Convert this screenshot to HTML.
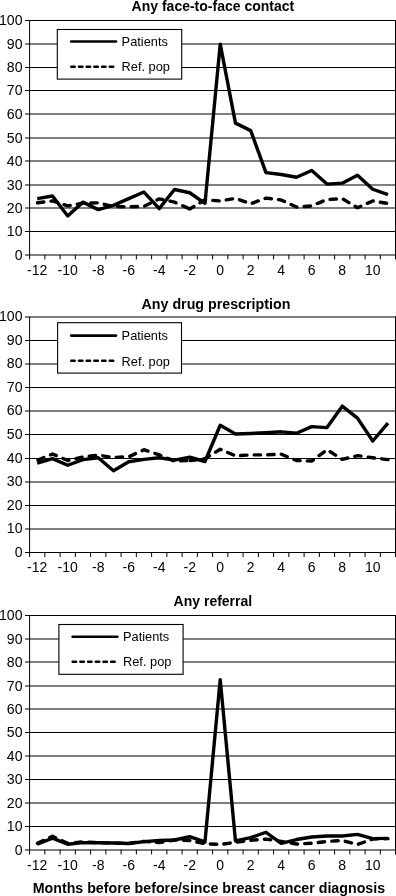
<!DOCTYPE html>
<html><head><meta charset="utf-8"><style>
html,body{margin:0;padding:0;background:#fff;width:396px;height:896px;overflow:hidden;}
svg text{font-family:"Liberation Sans", sans-serif;fill:#000;}
svg{will-change:transform;}
</style></head><body>
<svg width="396" height="896" viewBox="0 0 396 896" style="position:absolute;left:0;top:0"><g><line x1="25" y1="255.00" x2="395.6" y2="255.00" stroke="#000" stroke-width="1.1"/><text x="22.5" y="259.60" text-anchor="end" font-size="14.1">0</text><line x1="25" y1="231.50" x2="395.6" y2="231.50" stroke="#000" stroke-width="1.1"/><text x="22.5" y="236.10" text-anchor="end" font-size="14.1">10</text><line x1="25" y1="208.00" x2="395.6" y2="208.00" stroke="#000" stroke-width="1.1"/><text x="22.5" y="212.60" text-anchor="end" font-size="14.1">20</text><line x1="25" y1="185.00" x2="395.6" y2="185.00" stroke="#000" stroke-width="1.1"/><text x="22.5" y="189.60" text-anchor="end" font-size="14.1">30</text><line x1="25" y1="161.00" x2="395.6" y2="161.00" stroke="#000" stroke-width="1.1"/><text x="22.5" y="165.60" text-anchor="end" font-size="14.1">40</text><line x1="25" y1="138.00" x2="395.6" y2="138.00" stroke="#000" stroke-width="1.1"/><text x="22.5" y="142.60" text-anchor="end" font-size="14.1">50</text><line x1="25" y1="114.00" x2="395.6" y2="114.00" stroke="#000" stroke-width="1.1"/><text x="22.5" y="118.60" text-anchor="end" font-size="14.1">60</text><line x1="25" y1="90.50" x2="395.6" y2="90.50" stroke="#000" stroke-width="1.1"/><text x="22.5" y="95.10" text-anchor="end" font-size="14.1">70</text><line x1="25" y1="67.50" x2="395.6" y2="67.50" stroke="#000" stroke-width="1.1"/><text x="22.5" y="72.10" text-anchor="end" font-size="14.1">80</text><line x1="25" y1="44.00" x2="395.6" y2="44.00" stroke="#000" stroke-width="1.1"/><text x="22.5" y="48.60" text-anchor="end" font-size="14.1">90</text><line x1="25" y1="20.50" x2="395.6" y2="20.50" stroke="#000" stroke-width="1.1"/><text x="22.5" y="25.10" text-anchor="end" font-size="14.1">100</text><line x1="29.6" y1="20.50" x2="29.6" y2="259.45" stroke="#000" stroke-width="1"/><line x1="44.85" y1="254.85" x2="44.85" y2="259.45" stroke="#000" stroke-width="1"/><line x1="60.10" y1="254.85" x2="60.10" y2="259.45" stroke="#000" stroke-width="1"/><line x1="75.35" y1="254.85" x2="75.35" y2="259.45" stroke="#000" stroke-width="1"/><line x1="90.60" y1="254.85" x2="90.60" y2="259.45" stroke="#000" stroke-width="1"/><line x1="105.85" y1="254.85" x2="105.85" y2="259.45" stroke="#000" stroke-width="1"/><line x1="121.10" y1="254.85" x2="121.10" y2="259.45" stroke="#000" stroke-width="1"/><line x1="136.35" y1="254.85" x2="136.35" y2="259.45" stroke="#000" stroke-width="1"/><line x1="151.60" y1="254.85" x2="151.60" y2="259.45" stroke="#000" stroke-width="1"/><line x1="166.85" y1="254.85" x2="166.85" y2="259.45" stroke="#000" stroke-width="1"/><line x1="182.10" y1="254.85" x2="182.10" y2="259.45" stroke="#000" stroke-width="1"/><line x1="197.35" y1="254.85" x2="197.35" y2="259.45" stroke="#000" stroke-width="1"/><line x1="212.60" y1="254.85" x2="212.60" y2="259.45" stroke="#000" stroke-width="1"/><line x1="227.85" y1="254.85" x2="227.85" y2="259.45" stroke="#000" stroke-width="1"/><line x1="243.10" y1="254.85" x2="243.10" y2="259.45" stroke="#000" stroke-width="1"/><line x1="258.35" y1="254.85" x2="258.35" y2="259.45" stroke="#000" stroke-width="1"/><line x1="273.60" y1="254.85" x2="273.60" y2="259.45" stroke="#000" stroke-width="1"/><line x1="288.85" y1="254.85" x2="288.85" y2="259.45" stroke="#000" stroke-width="1"/><line x1="304.10" y1="254.85" x2="304.10" y2="259.45" stroke="#000" stroke-width="1"/><line x1="319.35" y1="254.85" x2="319.35" y2="259.45" stroke="#000" stroke-width="1"/><line x1="334.60" y1="254.85" x2="334.60" y2="259.45" stroke="#000" stroke-width="1"/><line x1="349.85" y1="254.85" x2="349.85" y2="259.45" stroke="#000" stroke-width="1"/><line x1="365.10" y1="254.85" x2="365.10" y2="259.45" stroke="#000" stroke-width="1"/><line x1="380.35" y1="254.85" x2="380.35" y2="259.45" stroke="#000" stroke-width="1"/><line x1="395.6" y1="20.00" x2="395.6" y2="259.45" stroke="#000" stroke-width="1.2"/><text x="37.23" y="275.40" text-anchor="middle" font-size="14">-12</text><text x="67.72" y="275.40" text-anchor="middle" font-size="14">-10</text><text x="98.22" y="275.40" text-anchor="middle" font-size="14">-8</text><text x="128.72" y="275.40" text-anchor="middle" font-size="14">-6</text><text x="159.22" y="275.40" text-anchor="middle" font-size="14">-4</text><text x="189.72" y="275.40" text-anchor="middle" font-size="14">-2</text><text x="220.22" y="275.40" text-anchor="middle" font-size="14">0</text><text x="250.72" y="275.40" text-anchor="middle" font-size="14">2</text><text x="281.23" y="275.40" text-anchor="middle" font-size="14">4</text><text x="311.73" y="275.40" text-anchor="middle" font-size="14">6</text><text x="342.23" y="275.40" text-anchor="middle" font-size="14">8</text><text x="372.73" y="275.40" text-anchor="middle" font-size="14">10</text><text x="212.9" y="10.70" text-anchor="middle" font-size="14" font-weight="bold">Any face-to-face contact</text><rect x="57.3" y="29.5" width="124.4" height="49.6" fill="#fff" stroke="#000" stroke-width="1.1"/><line x1="71.20" y1="41.5" x2="116.00" y2="41.5" stroke="#000" stroke-width="2.6" stroke-linecap="round"/><line x1="71.30" y1="66.8" x2="114.00" y2="66.8" stroke="#000" stroke-width="2.6" stroke-dasharray="3.4 4.3" stroke-linecap="round"/><text x="121.60" y="46.4" font-size="12.8">Patients</text><text x="121.60" y="71.3" font-size="12.8">Ref. pop</text><polyline points="37.23,202.82 52.48,200.95 67.72,205.87 82.97,203.29 98.22,202.82 113.47,206.57 128.72,206.81 143.97,206.34 159.22,198.84 174.47,202.12 189.72,208.92" fill="none" stroke="#000" stroke-width="3.4" stroke-dasharray="6.4 7.2" stroke-dashoffset="13.32" stroke-linecap="round" stroke-linejoin="round"/><polyline points="189.72,208.92 204.97,199.78 220.22,200.95 235.47,198.37 250.72,203.76 265.98,198.14 281.23,200.01 296.48,207.04 311.73,205.87 326.98,199.54 342.23,198.61 357.48,207.75 372.73,200.95 387.98,203.53" fill="none" stroke="#000" stroke-width="3.4" stroke-dasharray="6.4 7.2" stroke-dashoffset="1.61" stroke-linecap="round" stroke-linejoin="round"/><polyline points="37.23,198.61 52.48,196.03 67.72,215.95 82.97,202.12 98.22,209.62 113.47,205.40 128.72,198.61 143.97,192.04 159.22,208.68 174.47,189.47 189.72,192.75 204.97,203.29 220.22,44.17 235.47,123.15 250.72,130.64 265.98,172.59 281.23,174.47 296.48,177.28 311.73,170.48 326.98,184.08 342.23,183.14 357.48,175.17 372.73,189.23 387.98,194.62" fill="none" stroke="#000" stroke-width="3.4" stroke-linejoin="round"/></g><g><line x1="25" y1="552.50" x2="395.6" y2="552.50" stroke="#000" stroke-width="1.1"/><text x="22.5" y="556.60" text-anchor="end" font-size="14.1">0</text><line x1="25" y1="529.00" x2="395.6" y2="529.00" stroke="#000" stroke-width="1.1"/><text x="22.5" y="533.10" text-anchor="end" font-size="14.1">10</text><line x1="25" y1="505.50" x2="395.6" y2="505.50" stroke="#000" stroke-width="1.1"/><text x="22.5" y="509.60" text-anchor="end" font-size="14.1">20</text><line x1="25" y1="482.00" x2="395.6" y2="482.00" stroke="#000" stroke-width="1.1"/><text x="22.5" y="486.10" text-anchor="end" font-size="14.1">30</text><line x1="25" y1="458.50" x2="395.6" y2="458.50" stroke="#000" stroke-width="1.1"/><text x="22.5" y="462.60" text-anchor="end" font-size="14.1">40</text><line x1="25" y1="434.50" x2="395.6" y2="434.50" stroke="#000" stroke-width="1.1"/><text x="22.5" y="438.60" text-anchor="end" font-size="14.1">50</text><line x1="25" y1="411.00" x2="395.6" y2="411.00" stroke="#000" stroke-width="1.1"/><text x="22.5" y="415.10" text-anchor="end" font-size="14.1">60</text><line x1="25" y1="387.50" x2="395.6" y2="387.50" stroke="#000" stroke-width="1.1"/><text x="22.5" y="391.60" text-anchor="end" font-size="14.1">70</text><line x1="25" y1="364.00" x2="395.6" y2="364.00" stroke="#000" stroke-width="1.1"/><text x="22.5" y="368.10" text-anchor="end" font-size="14.1">80</text><line x1="25" y1="340.50" x2="395.6" y2="340.50" stroke="#000" stroke-width="1.1"/><text x="22.5" y="344.60" text-anchor="end" font-size="14.1">90</text><line x1="25" y1="317.00" x2="395.6" y2="317.00" stroke="#000" stroke-width="1.1"/><text x="22.5" y="321.10" text-anchor="end" font-size="14.1">100</text><line x1="29.6" y1="316.90" x2="29.6" y2="557.00" stroke="#000" stroke-width="1"/><line x1="44.85" y1="552.40" x2="44.85" y2="557.00" stroke="#000" stroke-width="1"/><line x1="60.10" y1="552.40" x2="60.10" y2="557.00" stroke="#000" stroke-width="1"/><line x1="75.35" y1="552.40" x2="75.35" y2="557.00" stroke="#000" stroke-width="1"/><line x1="90.60" y1="552.40" x2="90.60" y2="557.00" stroke="#000" stroke-width="1"/><line x1="105.85" y1="552.40" x2="105.85" y2="557.00" stroke="#000" stroke-width="1"/><line x1="121.10" y1="552.40" x2="121.10" y2="557.00" stroke="#000" stroke-width="1"/><line x1="136.35" y1="552.40" x2="136.35" y2="557.00" stroke="#000" stroke-width="1"/><line x1="151.60" y1="552.40" x2="151.60" y2="557.00" stroke="#000" stroke-width="1"/><line x1="166.85" y1="552.40" x2="166.85" y2="557.00" stroke="#000" stroke-width="1"/><line x1="182.10" y1="552.40" x2="182.10" y2="557.00" stroke="#000" stroke-width="1"/><line x1="197.35" y1="552.40" x2="197.35" y2="557.00" stroke="#000" stroke-width="1"/><line x1="212.60" y1="552.40" x2="212.60" y2="557.00" stroke="#000" stroke-width="1"/><line x1="227.85" y1="552.40" x2="227.85" y2="557.00" stroke="#000" stroke-width="1"/><line x1="243.10" y1="552.40" x2="243.10" y2="557.00" stroke="#000" stroke-width="1"/><line x1="258.35" y1="552.40" x2="258.35" y2="557.00" stroke="#000" stroke-width="1"/><line x1="273.60" y1="552.40" x2="273.60" y2="557.00" stroke="#000" stroke-width="1"/><line x1="288.85" y1="552.40" x2="288.85" y2="557.00" stroke="#000" stroke-width="1"/><line x1="304.10" y1="552.40" x2="304.10" y2="557.00" stroke="#000" stroke-width="1"/><line x1="319.35" y1="552.40" x2="319.35" y2="557.00" stroke="#000" stroke-width="1"/><line x1="334.60" y1="552.40" x2="334.60" y2="557.00" stroke="#000" stroke-width="1"/><line x1="349.85" y1="552.40" x2="349.85" y2="557.00" stroke="#000" stroke-width="1"/><line x1="365.10" y1="552.40" x2="365.10" y2="557.00" stroke="#000" stroke-width="1"/><line x1="380.35" y1="552.40" x2="380.35" y2="557.00" stroke="#000" stroke-width="1"/><line x1="395.6" y1="316.40" x2="395.6" y2="557.00" stroke="#000" stroke-width="1.2"/><text x="37.23" y="572.25" text-anchor="middle" font-size="14">-12</text><text x="67.72" y="572.25" text-anchor="middle" font-size="14">-10</text><text x="98.22" y="572.25" text-anchor="middle" font-size="14">-8</text><text x="128.72" y="572.25" text-anchor="middle" font-size="14">-6</text><text x="159.22" y="572.25" text-anchor="middle" font-size="14">-4</text><text x="189.72" y="572.25" text-anchor="middle" font-size="14">-2</text><text x="220.22" y="572.25" text-anchor="middle" font-size="14">0</text><text x="250.72" y="572.25" text-anchor="middle" font-size="14">2</text><text x="281.23" y="572.25" text-anchor="middle" font-size="14">4</text><text x="311.73" y="572.25" text-anchor="middle" font-size="14">6</text><text x="342.23" y="572.25" text-anchor="middle" font-size="14">8</text><text x="372.73" y="572.25" text-anchor="middle" font-size="14">10</text><text x="215.95" y="308.60" text-anchor="middle" font-size="14.26" font-weight="bold">Any drug prescription</text><rect x="57.6" y="322.7" width="123.9" height="50.4" fill="#fff" stroke="#000" stroke-width="1.1"/><line x1="71.20" y1="335.6" x2="116.00" y2="335.6" stroke="#000" stroke-width="2.6" stroke-linecap="round"/><line x1="71.30" y1="360.7" x2="114.00" y2="360.7" stroke="#000" stroke-width="2.6" stroke-dasharray="3.4 4.3" stroke-linecap="round"/><text x="121.60" y="340.3" font-size="12.8">Patients</text><text x="121.60" y="365.5" font-size="12.8">Ref. pop</text><polyline points="37.23,460.44 52.48,453.96 67.72,460.55 82.97,457.02 98.22,455.14 113.47,457.49 128.72,456.79 143.97,449.72 159.22,454.90 174.47,461.03 189.72,460.55" fill="none" stroke="#000" stroke-width="3.4" stroke-dasharray="6.4 7.2" stroke-dashoffset="12.83" stroke-linecap="round" stroke-linejoin="round"/><polyline points="189.72,460.55 204.97,458.67 220.22,449.25 235.47,455.84 250.72,454.90 265.98,454.90 281.23,454.20 296.48,460.55 311.73,461.03 326.98,449.72 342.23,459.38 357.48,455.61 372.73,457.73 387.98,459.61" fill="none" stroke="#000" stroke-width="3.4" stroke-dasharray="6.4 7.2" stroke-dashoffset="12.96" stroke-linecap="round" stroke-linejoin="round"/><polyline points="37.23,463.03 52.48,458.67 67.72,465.26 82.97,459.61 98.22,457.73 113.47,470.68 128.72,461.73 143.97,459.38 159.22,457.73 174.47,460.08 189.72,457.26 204.97,461.50 220.22,425.23 235.47,433.94 250.72,433.47 265.98,432.77 281.23,431.82 296.48,433.24 311.73,426.64 326.98,427.58 342.23,406.15 357.48,418.16 372.73,441.01 387.98,423.11" fill="none" stroke="#000" stroke-width="3.4" stroke-linejoin="round"/></g><g><line x1="25" y1="850.00" x2="395.6" y2="850.00" stroke="#000" stroke-width="1.1"/><text x="22.5" y="854.50" text-anchor="end" font-size="14.1">0</text><line x1="25" y1="826.50" x2="395.6" y2="826.50" stroke="#000" stroke-width="1.1"/><text x="22.5" y="831.00" text-anchor="end" font-size="14.1">10</text><line x1="25" y1="803.00" x2="395.6" y2="803.00" stroke="#000" stroke-width="1.1"/><text x="22.5" y="807.50" text-anchor="end" font-size="14.1">20</text><line x1="25" y1="779.50" x2="395.6" y2="779.50" stroke="#000" stroke-width="1.1"/><text x="22.5" y="784.00" text-anchor="end" font-size="14.1">30</text><line x1="25" y1="756.00" x2="395.6" y2="756.00" stroke="#000" stroke-width="1.1"/><text x="22.5" y="760.50" text-anchor="end" font-size="14.1">40</text><line x1="25" y1="732.50" x2="395.6" y2="732.50" stroke="#000" stroke-width="1.1"/><text x="22.5" y="737.00" text-anchor="end" font-size="14.1">50</text><line x1="25" y1="709.00" x2="395.6" y2="709.00" stroke="#000" stroke-width="1.1"/><text x="22.5" y="713.50" text-anchor="end" font-size="14.1">60</text><line x1="25" y1="686.00" x2="395.6" y2="686.00" stroke="#000" stroke-width="1.1"/><text x="22.5" y="690.50" text-anchor="end" font-size="14.1">70</text><line x1="25" y1="662.00" x2="395.6" y2="662.00" stroke="#000" stroke-width="1.1"/><text x="22.5" y="666.50" text-anchor="end" font-size="14.1">80</text><line x1="25" y1="639.00" x2="395.6" y2="639.00" stroke="#000" stroke-width="1.1"/><text x="22.5" y="643.50" text-anchor="end" font-size="14.1">90</text><line x1="25" y1="615.50" x2="395.6" y2="615.50" stroke="#000" stroke-width="1.1"/><text x="22.5" y="620.00" text-anchor="end" font-size="14.1">100</text><line x1="29.6" y1="615.50" x2="29.6" y2="854.45" stroke="#000" stroke-width="1"/><line x1="44.85" y1="849.85" x2="44.85" y2="854.45" stroke="#000" stroke-width="1"/><line x1="60.10" y1="849.85" x2="60.10" y2="854.45" stroke="#000" stroke-width="1"/><line x1="75.35" y1="849.85" x2="75.35" y2="854.45" stroke="#000" stroke-width="1"/><line x1="90.60" y1="849.85" x2="90.60" y2="854.45" stroke="#000" stroke-width="1"/><line x1="105.85" y1="849.85" x2="105.85" y2="854.45" stroke="#000" stroke-width="1"/><line x1="121.10" y1="849.85" x2="121.10" y2="854.45" stroke="#000" stroke-width="1"/><line x1="136.35" y1="849.85" x2="136.35" y2="854.45" stroke="#000" stroke-width="1"/><line x1="151.60" y1="849.85" x2="151.60" y2="854.45" stroke="#000" stroke-width="1"/><line x1="166.85" y1="849.85" x2="166.85" y2="854.45" stroke="#000" stroke-width="1"/><line x1="182.10" y1="849.85" x2="182.10" y2="854.45" stroke="#000" stroke-width="1"/><line x1="197.35" y1="849.85" x2="197.35" y2="854.45" stroke="#000" stroke-width="1"/><line x1="212.60" y1="849.85" x2="212.60" y2="854.45" stroke="#000" stroke-width="1"/><line x1="227.85" y1="849.85" x2="227.85" y2="854.45" stroke="#000" stroke-width="1"/><line x1="243.10" y1="849.85" x2="243.10" y2="854.45" stroke="#000" stroke-width="1"/><line x1="258.35" y1="849.85" x2="258.35" y2="854.45" stroke="#000" stroke-width="1"/><line x1="273.60" y1="849.85" x2="273.60" y2="854.45" stroke="#000" stroke-width="1"/><line x1="288.85" y1="849.85" x2="288.85" y2="854.45" stroke="#000" stroke-width="1"/><line x1="304.10" y1="849.85" x2="304.10" y2="854.45" stroke="#000" stroke-width="1"/><line x1="319.35" y1="849.85" x2="319.35" y2="854.45" stroke="#000" stroke-width="1"/><line x1="334.60" y1="849.85" x2="334.60" y2="854.45" stroke="#000" stroke-width="1"/><line x1="349.85" y1="849.85" x2="349.85" y2="854.45" stroke="#000" stroke-width="1"/><line x1="365.10" y1="849.85" x2="365.10" y2="854.45" stroke="#000" stroke-width="1"/><line x1="380.35" y1="849.85" x2="380.35" y2="854.45" stroke="#000" stroke-width="1"/><line x1="395.6" y1="615.00" x2="395.6" y2="854.45" stroke="#000" stroke-width="1.2"/><text x="37.23" y="870.40" text-anchor="middle" font-size="14">-12</text><text x="67.72" y="870.40" text-anchor="middle" font-size="14">-10</text><text x="98.22" y="870.40" text-anchor="middle" font-size="14">-8</text><text x="128.72" y="870.40" text-anchor="middle" font-size="14">-6</text><text x="159.22" y="870.40" text-anchor="middle" font-size="14">-4</text><text x="189.72" y="870.40" text-anchor="middle" font-size="14">-2</text><text x="220.22" y="870.40" text-anchor="middle" font-size="14">0</text><text x="250.72" y="870.40" text-anchor="middle" font-size="14">2</text><text x="281.23" y="870.40" text-anchor="middle" font-size="14">4</text><text x="311.73" y="870.40" text-anchor="middle" font-size="14">6</text><text x="342.23" y="870.40" text-anchor="middle" font-size="14">8</text><text x="372.73" y="870.40" text-anchor="middle" font-size="14">10</text><text x="212.9" y="605.50" text-anchor="middle" font-size="14" font-weight="bold">Any referral</text><rect x="58.9" y="624.5" width="124.2" height="49.8" fill="#fff" stroke="#000" stroke-width="1.1"/><line x1="72.60" y1="636.7" x2="117.40" y2="636.7" stroke="#000" stroke-width="2.6" stroke-linecap="round"/><line x1="72.70" y1="661.7" x2="115.40" y2="661.7" stroke="#000" stroke-width="2.6" stroke-dasharray="3.4 4.3" stroke-linecap="round"/><text x="123.00" y="641.2" font-size="12.8">Patients</text><text x="123.00" y="666.2" font-size="12.8">Ref. pop</text><polyline points="37.23,843.29 52.48,836.26 67.72,843.29 82.97,841.88 98.22,842.59 113.47,843.05 128.72,843.29 143.97,841.41 159.22,842.59 174.47,840.01 189.72,840.48 204.97,843.76 220.22,844.46 235.47,842.35 250.72,840.24 265.98,839.07 281.23,841.41 296.48,843.99 311.73,843.29 326.98,841.41 342.23,840.48 357.48,844.46 372.73,839.07 387.98,838.60" fill="none" stroke="#000" stroke-width="3.4" stroke-dasharray="6.4 7.2" stroke-dashoffset="13.43" stroke-linecap="round" stroke-linejoin="round"/><polyline points="37.23,844.23 52.48,838.13 67.72,844.23 82.97,842.59 98.22,842.82 113.47,843.05 128.72,843.52 143.97,841.65 159.22,840.48 174.47,840.01 189.72,836.73 204.97,841.88 220.22,679.71 235.47,840.94 250.72,837.66 265.98,832.27 281.23,843.29 296.48,839.54 311.73,836.96 326.98,836.02 342.23,836.02 357.48,834.38 372.73,838.60 387.98,838.37" fill="none" stroke="#000" stroke-width="3.4" stroke-linejoin="round"/></g><text x="208.9" y="893.3" text-anchor="middle" font-size="14.23" font-weight="bold">Months before before/since breast cancer diagnosis</text></svg>
</body></html>
